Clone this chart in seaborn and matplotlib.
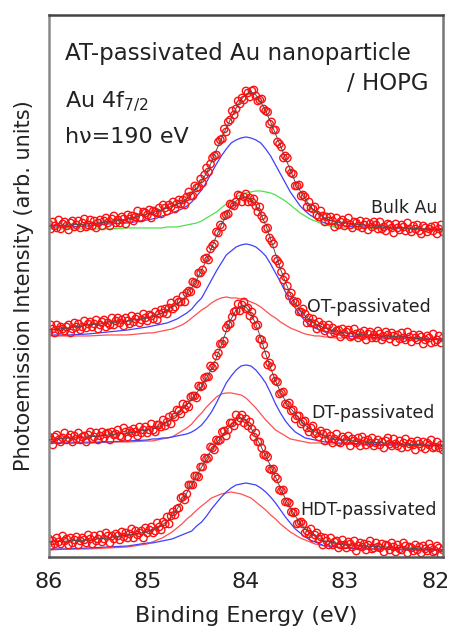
import numpy as np
import pandas as pd
import matplotlib
matplotlib.use("Agg")
import matplotlib.pyplot as plt
from matplotlib.transforms import ScaledTranslation
import seaborn as sns

# Measurement grid (binding energy, eV) and the grid of the fitted curves
energy = np.round(np.linspace(86.0, 82.0, 201), 2)
fit_energy = [86.0, 85.8, 85.6, 85.4, 85.2, 85.0,
              84.95, 84.9, 84.85, 84.8, 84.75, 84.7, 84.65, 84.6, 84.55, 84.5,
              84.45, 84.4, 84.35, 84.3, 84.25, 84.2, 84.15, 84.1, 84.05, 84.0,
              83.95, 83.9, 83.85, 83.8, 83.75, 83.7, 83.65, 83.6, 83.55, 83.5,
              83.45, 83.4, 83.35, 83.3, 83.25, 83.2, 83.15, 83.1, 83.05, 83.0,
              82.8, 82.6, 82.4, 82.2, 82.0]

samples = ["Bulk Au", "OT-passivated", "DT-passivated", "HDT-passivated"]
offsets = [3.27, 2.17, 1.11, 0.06]   # vertical stacking of the spectra
counts_per_unit = 100.0

# Measured Au 4f7/2 spectra (counts above the high-energy-side background)
bulk_counts = [6, 1, 8, 4, 2, 10, 1, 6, 8, 4, 0,
               7, 9, 3, 5, 9, 2, 7, 11, 3, 5,
               10, 4, 9, 2, 7, 10, 4, 9, 12, 7,
               4, 11, 14, 7, 10, 7, 13, 11, 6, 15,
               11, 14, 9, 13, 19, 12, 12, 18, 17, 15,
               20, 12, 19, 18, 17, 22, 16, 25, 22, 19,
               25, 23, 28, 21, 26, 30, 26, 30, 25, 33,
               38, 34, 34, 44, 42, 43, 51, 47, 55, 62,
               58, 66, 72, 74, 75, 88, 90, 91, 101, 98,
               108, 110, 119, 115, 121, 129, 126, 132, 130, 139,
               137, 133, 139, 140, 134, 129, 130, 131, 121, 119,
               118, 106, 108, 100, 100, 88, 86, 83, 72, 74,
               72, 60, 57, 56, 44, 44, 45, 34, 35, 33,
               23, 28, 22, 21, 23, 15, 13, 19, 14, 8,
               13, 9, 13, 9, 3, 12, 5, 8, 10, 4,
               7, 12, 5, 2, 8, 7, 4, 9, 2, 5,
               8, 0, 6, 3, 8, 5, 1, 8, 1, 3,
               -1, 6, 5, 2, -3, 6, 2, 0, 5, 3,
               -1, 7, 1, -2, 4, 1, 5, -1, -4, 4,
               2, -2, 1, 3, -1, 4, -4, 1, 5, -2]
ot_counts = [8, 15, 11, 7, 15, 10, 13, 11, 9, 13, 15,
             7, 11, 17, 13, 16, 10, 13, 19, 12, 16,
             18, 13, 16, 20, 11, 15, 18, 20, 13, 17,
             15, 22, 15, 19, 22, 17, 20, 14, 22, 19,
             16, 24, 18, 21, 23, 17, 20, 26, 22, 19,
             25, 24, 21, 28, 20, 26, 30, 27, 31, 26,
             32, 37, 31, 33, 40, 38, 38, 44, 38, 47,
             49, 48, 58, 57, 56, 67, 67, 70, 81, 82,
             80, 91, 94, 96, 108, 107, 115, 113, 124, 125,
             126, 136, 135, 134, 138, 145, 144, 138, 143, 146,
             138, 142, 138, 141, 134, 128, 133, 124, 121, 111,
             112, 102, 99, 96, 81, 79, 76, 68, 60, 63,
             54, 44, 47, 39, 37, 38, 28, 28, 31, 26,
             17, 22, 17, 21, 16, 11, 18, 13, 15, 9,
             12, 15, 6, 12, 7, 9, 10, 3, 11, 6,
             8, 10, 3, 4, 11, 6, 2, 7, 4, 9,
             0, 6, 8, 2, 5, 2, 9, 6, 0, 3,
             8, 5, 1, 7, 4, -2, 5, 1, 7, 2,
             0, 8, 3, -2, 5, 2, 0, 5, 3, -4,
             0, 4, 2, -3, 6, -2, 0, 4, -3, 2]
dt_counts = [9, 6, 1, 9, 11, 6, 4, 8, 13, 6, 8,
             11, 4, 10, 7, 13, 6, 9, 10, 4, 11,
             14, 7, 9, 13, 6, 10, 14, 8, 12, 13,
             6, 14, 11, 12, 16, 10, 9, 18, 14, 9,
             15, 13, 17, 14, 10, 19, 13, 16, 19, 13,
             16, 22, 16, 14, 21, 21, 19, 26, 20, 24,
             29, 22, 31, 29, 36, 35, 32, 42, 37, 41,
             39, 49, 50, 50, 48, 60, 59, 60, 68, 69,
             69, 80, 78, 80, 90, 93, 102, 102, 105, 118,
             121, 122, 129, 134, 135, 142, 135, 141, 144, 137,
             138, 130, 134, 126, 120, 121, 107, 106, 101, 91,
             81, 83, 79, 68, 65, 64, 52, 53, 54, 42,
             41, 43, 35, 36, 27, 30, 30, 22, 24, 25,
             18, 14, 18, 20, 12, 13, 9, 15, 12, 5,
             13, 7, 10, 3, 7, 12, 4, 3, 9, 7,
             5, 10, 0, 7, 5, 3, 8, 0, 9, 5,
             1, 6, 3, 8, 0, 3, 6, 1, 4, -2,
             5, 8, 2, 0, 7, 2, 0, 5, -2, 3,
             7, -1, 2, 4, 1, -4, 5, 2, -1, 4,
             -3, 3, 1, 6, -2, -1, 4, -2, 1, -4]
hdt_counts = [12, 5, 10, 7, 13, 9, 7, 15, 10, 12, 6,
              13, 8, 11, 14, 6, 10, 13, 11, 8, 16,
              12, 7, 15, 10, 12, 16, 9, 12, 18, 15,
              8, 15, 12, 17, 15, 11, 19, 14, 18, 13,
              17, 22, 13, 20, 16, 18, 20, 13, 23, 18,
              21, 24, 18, 20, 28, 24, 21, 29, 27, 34,
              27, 35, 39, 36, 42, 43, 53, 54, 51, 57,
              66, 66, 66, 75, 75, 74, 84, 84, 93, 92,
              93, 104, 103, 101, 111, 110, 111, 119, 120, 115,
              121, 128, 128, 125, 136, 130, 133, 136, 128, 132,
              125, 129, 122, 114, 118, 109, 109, 103, 96, 96,
              94, 82, 81, 82, 74, 72, 61, 60, 61, 49,
              49, 48, 39, 38, 39, 27, 28, 29, 27, 18,
              20, 17, 22, 13, 16, 18, 12, 14, 6, 13,
              10, 6, 13, 6, 9, 10, 3, 6, 11, 6,
              3, 9, 7, 4, 10, 0, 5, 8, 4, 7,
              1, 6, 10, 2, 3, 8, 4, 3, 7, -1,
              6, 5, 1, 8, 4, -1, 6, 2, 1, 8,
              5, -2, 4, 3, 0, 6, 1, 4, -2, 5,
              2, 0, 7, 3, -1, 0, 5, 3, -4, 1]

# Least-squares fits: envelope, bulk-like component (blue) and second component
bulk_fit = [4, 5, 6, 8, 11, 16, 17, 19, 20, 22, 24, 26, 28, 31, 36, 42,
            49, 57, 68, 80, 91, 102, 112, 122, 130, 136, 138, 135, 128, 119, 108, 96, 84, 72, 60, 48,
            39, 31, 24, 19, 15, 12, 10, 8, 7, 7, 5, 3, 2, 1, 0]
bulk_main = [3, 3, 4, 6, 7, 10, 11, 12, 14, 15, 17, 19, 21, 24, 28, 34,
             40, 48, 57, 66, 74, 81, 87, 90, 92, 93, 92, 90, 87, 81, 74, 65, 56, 47, 38, 31,
             24, 19, 15, 12, 9, 7, 6, 5, 5, 4, 3, 2, 2, 1, 1]
bulk_surface = [1, 1, 1, 1, 2, 2, 2, 2, 2, 3, 3, 3, 4, 5, 6, 7,
                9, 12, 15, 18, 22, 26, 29, 33, 35, 37, 38, 39, 39, 38, 37, 35, 32, 29, 25, 21,
                17, 14, 11, 9, 7, 5, 4, 3, 3, 2, 2, 1, 1, 0, 0]

ot_fit = [10, 12, 15, 17, 19, 22, 23, 25, 27, 30, 33, 36, 40, 45, 52, 60,
          70, 80, 92, 104, 115, 125, 133, 139, 143, 143, 141, 135, 126, 115, 101, 86, 71, 58, 46, 37,
          30, 24, 20, 16, 14, 12, 10, 9, 8, 7, 5, 4, 3, 1, 0]
ot_main = [5, 5, 6, 8, 10, 13, 14, 15, 16, 17, 19, 21, 24, 27, 31, 37,
           42, 51, 60, 69, 77, 85, 89, 93, 95, 96, 95, 93, 89, 84, 76, 67, 58, 48, 39, 32,
           25, 19, 15, 12, 10, 8, 7, 6, 5, 4, 3, 2, 2, 1, 1]
ot_shifted = [4, 4, 4, 5, 5, 7, 7, 8, 9, 10, 11, 13, 15, 18, 22, 26,
              30, 33, 37, 40, 42, 43, 42, 42, 41, 40, 38, 36, 33, 29, 25, 22, 18, 15, 12, 10,
              8, 6, 5, 4, 4, 3, 3, 2, 2, 2, 1, 1, 1, 1, 0]

dt_fit = [6, 8, 9, 11, 13, 16, 17, 19, 21, 24, 28, 32, 36, 41, 47, 53,
          60, 68, 77, 88, 101, 115, 127, 136, 140, 139, 132, 122, 108, 92, 78, 65, 54, 45, 38, 32,
          26, 21, 17, 14, 12, 10, 8, 7, 6, 6, 4, 3, 2, 1, 0]
dt_main = [3, 3, 3, 4, 5, 6, 7, 7, 8, 8, 9, 10, 11, 12, 14, 17,
           21, 27, 34, 43, 53, 63, 70, 76, 80, 81, 80, 76, 70, 63, 53, 42, 33, 25, 19, 14,
           11, 8, 7, 6, 5, 4, 4, 3, 3, 3, 2, 1, 1, 1, 1]
dt_shifted = [3, 3, 4, 4, 4, 5, 5, 6, 7, 8, 9, 12, 15, 18, 22, 28,
              33, 39, 44, 49, 52, 53, 53, 52, 51, 48, 43, 38, 32, 26, 21, 16, 13, 10, 7, 6,
              5, 4, 3, 3, 3, 2, 2, 2, 2, 2, 1, 1, 1, 0, 0]

hdt_fit = [9, 10, 11, 13, 16, 19, 21, 23, 26, 30, 35, 42, 50, 58, 67, 75,
           84, 93, 101, 108, 114, 120, 126, 131, 133, 130, 123, 114, 105, 95, 85, 74, 63, 52, 43, 35,
           28, 22, 18, 15, 12, 10, 9, 8, 7, 6, 5, 4, 3, 2, 1]
hdt_main = [2, 2, 3, 4, 5, 8, 8, 9, 10, 11, 12, 14, 16, 18, 20, 25,
            29, 35, 42, 48, 54, 59, 63, 66, 67, 68, 67, 66, 63, 59, 54, 48, 41, 34, 28, 22,
            18, 14, 11, 9, 7, 5, 5, 4, 3, 3, 2, 2, 1, 1, 1]
hdt_shifted = [1, 2, 2, 3, 4, 7, 9, 11, 13, 16, 19, 23, 27, 32, 36, 41,
               45, 49, 53, 55, 57, 58, 59, 58, 57, 55, 53, 49, 45, 41, 36, 32, 27, 23, 19, 16,
               13, 11, 9, 7, 6, 5, 5, 4, 4, 3, 2, 2, 2, 1, 1]

measured = [bulk_counts, ot_counts, dt_counts, hdt_counts]
envelopes = [bulk_fit, ot_fit, dt_fit, hdt_fit]
main_peaks = [bulk_main, ot_main, dt_main, hdt_main]
second_peaks = [bulk_surface, ot_shifted, dt_shifted, hdt_shifted]
second_colors = ["#4fe04f", "#ff5050", "#ff5050", "#ff5050"]

sns.set_style("white")
plt.rcParams["font.family"] = ["DejaVu Sans"]
plt.rcParams["mathtext.fontset"] = "dejavusans"

fig = plt.figure(figsize=(4.53, 6.34), dpi=100)
ax = fig.add_axes([0.108, 0.1215, 0.870, 0.8549])

for name, off, data, env, main, second, c2 in zip(samples, offsets, measured, envelopes,
                                                  main_peaks, second_peaks, second_colors):
    spec = pd.DataFrame({"energy": energy,
                         "intensity": off + np.asarray(data) / counts_per_unit})
    fit = pd.DataFrame({"energy": fit_energy,
                        "envelope": off + np.asarray(env) / counts_per_unit,
                        "main": off + np.asarray(main) / counts_per_unit,
                        "second": off + np.asarray(second) / counts_per_unit})
    sns.lineplot(data=fit, x="energy", y="second", ax=ax, color=c2, lw=0.9,
                 sort=False, zorder=1)
    sns.lineplot(data=fit, x="energy", y="main", ax=ax, color="#3f3fff", lw=0.9,
                 sort=False, zorder=1)
    sns.scatterplot(data=spec, x="energy", y="intensity", ax=ax, marker="o", s=28,
                    facecolors="none", edgecolors="#ff1010", linewidths=1.0, zorder=2)
    sns.lineplot(data=fit, x="energy", y="envelope", ax=ax, color="#505050", lw=0.7,
                 sort=False, zorder=3)

ax.set_xlim(86, 82)
ax.set_ylim(0, 5.42)
ax.set_yticks([])
ax.set_xticks([86, 85, 84, 83, 82])
ax.set_xticklabels(["86", "85", "84", "83", "82"])
ax.tick_params(axis="x", direction="in", length=6, width=1.5, color="#333333",
               labelsize=16, pad=11, labelcolor="#222222")
ax.set_xlabel("Binding Energy (eV)", fontsize=16, color="#222222", labelpad=10)
ax.set_ylabel("Photoemission Intensity (arb. units)", fontsize=15, color="#222222",
              labelpad=11)
for side, col in [("top", "#444444"), ("bottom", "#555555"), ("left", "#8a8a8a"),
                  ("right", "#777777")]:
    ax.spines[side].set_color(col)
    ax.spines[side].set_linewidth(1.8)

# keep the right-most tick label inside the canvas
last = ax.get_xticklabels()[-1]
last.set_transform(last.get_transform() + ScaledTranslation(-5 / 72, 0, fig.dpi_scale_trans))

txt = dict(color="#222222", va="center")
ax.text(85.84, 5.03, "AT-passivated Au nanoparticle", fontsize=16.5, ha="left", **txt)
ax.text(82.15, 4.73, "/ HOPG", fontsize=16.5, ha="right", **txt)
ax.text(85.84, 4.55, r"Au 4f$_{\mathit{7/2}}$", fontsize=16, ha="left", **txt)
ax.text(85.84, 4.20, "h\u03bd=190 eV", fontsize=16, ha="left", **txt)

label_pos = [(82.06, 3.49), (82.12, 2.50), (82.09, 1.44), (82.06, 0.47)]
for name, (x, y) in zip(samples, label_pos):
    ax.text(x, y, name, fontsize=12.5, ha="right", **txt)

fig.savefig("out.png", dpi=100)
